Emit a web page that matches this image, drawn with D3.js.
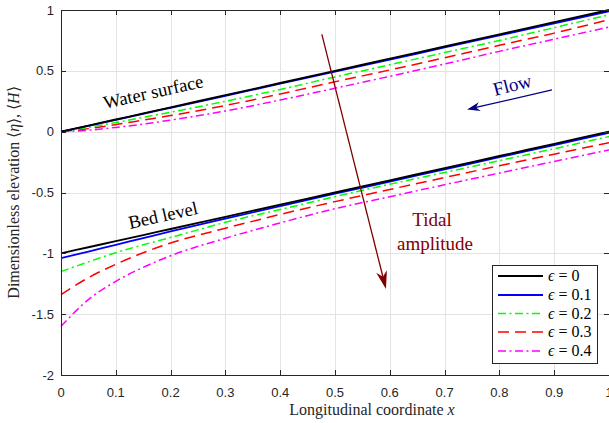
<!DOCTYPE html>
<html>
<head>
<meta charset="utf-8">
<script src="https://cdn.jsdelivr.net/npm/d3@7"></script>
<style>
  body { margin: 0; background: #fff; }
  svg { display: block; }
</style>
</head>
<body>
<div id="chart"></div>
<script>
var xVals = [0, 0.05, 0.1, 0.15, 0.2, 0.3, 0.4, 0.5, 0.6, 0.7, 0.8, 0.9, 1];

// water surface <eta> for each epsilon
var surfEps0  = [0, 0.05, 0.1, 0.15, 0.2, 0.3, 0.4, 0.5, 0.6, 0.7, 0.8, 0.9, 1];
var surfEps01 = [0, 0.048, 0.097, 0.147, 0.196, 0.295, 0.394, 0.493, 0.592, 0.692, 0.791, 0.89, 0.99];
var surfEps02 = [0, 0.035, 0.075, 0.118, 0.16, 0.25, 0.347, 0.45, 0.55, 0.65, 0.75, 0.855, 0.96];
var surfEps03 = [0, 0.025, 0.058, 0.095, 0.132, 0.215, 0.31, 0.41, 0.507, 0.607, 0.71, 0.81, 0.92];
var surfEps04 = [0, 0.012, 0.035, 0.062, 0.095, 0.17, 0.26, 0.357, 0.455, 0.556, 0.66, 0.76, 0.86];

// bed level <H> for each epsilon
var bedEps0  = [-1, -0.95, -0.9, -0.85, -0.8, -0.7, -0.6, -0.5, -0.4, -0.3, -0.2, -0.1, 0];
var bedEps01 = [-1.04, -0.985, -0.93, -0.875, -0.82, -0.715, -0.612, -0.51, -0.41, -0.31, -0.21, -0.11, -0.01];
var bedEps02 = [-1.15, -1.07, -0.995, -0.93, -0.87, -0.745, -0.64, -0.534, -0.432, -0.335, -0.238, -0.14, -0.04];
var bedEps03 = [-1.34, -1.2, -1.09, -0.995, -0.915, -0.794, -0.68, -0.575, -0.475, -0.377, -0.28, -0.185, -0.09];
var bedEps04 = [-1.6, -1.38, -1.23, -1.115, -1.02, -0.876, -0.75, -0.633, -0.535, -0.436, -0.34, -0.245, -0.15];

var epsLabels = ["0", "0.1", "0.2", "0.3", "0.4"];
var xTicks = [0, 0.1, 0.2, 0.3, 0.4, 0.5, 0.6, 0.7, 0.8, 0.9, 1];
var yTicks = [-2, -1.5, -1, -0.5, 0, 0.5, 1];

var W = 609, H = 423;
var mLeft = 61, mRight = 609, mTop = 10, mBottom = 375;

var x = d3.scaleLinear().domain([0, 1]).range([mLeft, mRight]);
var y = d3.scaleLinear().domain([-2, 1]).range([mBottom, mTop]);

var svg = d3.select("#chart").append("svg")
    .attr("width", W)
    .attr("height", H)
    .style("font-family", "'Liberation Sans', Arial, sans-serif");

// styles per epsilon (matlab-ish)
var styles = [
  { color: "#000000", dash: null, w: 1.8 },
  { color: "#0000ff", dash: null, w: 1.8 },
  { color: "#00ff00", dash: "8,3.5,2,3.5", w: 1.5 },
  { color: "#ff0000", dash: "11,6", w: 1.5 },
  { color: "#ff00ff", dash: "8,3.5,2,3.5", w: 1.5 }
];

var surfaces = [surfEps0, surfEps01, surfEps02, surfEps03, surfEps04];
var beds = [bedEps0, bedEps01, bedEps02, bedEps03, bedEps04];

// grid
var grid = svg.append("g").attr("stroke", "#e3e3e3").attr("stroke-width", 1);
grid.selectAll("line.gx").data(xTicks.slice(1, -1)).enter().append("line")
    .attr("x1", function(d) { return Math.round(x(d)) + 0.5; })
    .attr("x2", function(d) { return Math.round(x(d)) + 0.5; })
    .attr("y1", mTop).attr("y2", mBottom);
grid.selectAll("line.gy").data(yTicks.slice(1, -1)).enter().append("line")
    .attr("y1", function(d) { return Math.round(y(d)) + 0.5; })
    .attr("y2", function(d) { return Math.round(y(d)) + 0.5; })
    .attr("x1", mLeft).attr("x2", mRight);

var line = d3.line()
    .x(function(d, i) { return x(xVals[i]); })
    .y(function(d) { return y(d); })
    .curve(d3.curveMonotoneX);

// draw from eps=0.4 up so black sits on top
for (var k = 4; k >= 0; k--) {
  [surfaces[k], beds[k]].forEach(function(series) {
    svg.append("path")
        .attr("d", line(series))
        .attr("fill", "none")
        .attr("stroke", styles[k].color)
        .attr("stroke-width", styles[k].w)
        .attr("stroke-dasharray", styles[k].dash);
  });
}

// slope of the eps=0 lines on screen, for the rotated labels
var ang = Math.atan2(y(1) - y(0), x(1) - x(0)) * 180 / Math.PI;

var serif = "'Liberation Serif', 'Times New Roman', serif";

svg.append("text")
    .attr("transform", "translate(" + 105 + "," + 109 + ") rotate(" + ang + ")")
    .attr("font-family", serif).attr("font-size", 18.5)
    .text("Water surface");

svg.append("text")
    .attr("transform", "translate(" + 130 + "," + 229 + ") rotate(" + ang + ")")
    .attr("font-family", serif).attr("font-size", 18.5)
    .text("Bed level");

svg.append("text")
    .attr("transform", "translate(" + 495 + "," + 96 + ") rotate(" + (ang - 2) + ")")
    .attr("font-family", serif).attr("font-size", 19)
    .attr("fill", "#000080")
    .text("Flow");

svg.append("text")
    .attr("x", 432).attr("y", 226)
    .attr("text-anchor", "middle")
    .attr("font-family", serif).attr("font-size", 19)
    .attr("fill", "#800000")
    .text("Tidal");
svg.append("text")
    .attr("x", 435).attr("y", 250)
    .attr("text-anchor", "middle")
    .attr("font-family", serif).attr("font-size", 19)
    .attr("fill", "#800000")
    .text("amplitude");

// annotation arrows, in data coordinates
function arrow(x0, y0, x1, y1, color, headLen, headW) {
  var ax = x(x0), ay = y(y0), bx = x(x1), by = y(y1);
  var dx = bx - ax, dy = by - ay, L = Math.sqrt(dx * dx + dy * dy);
  var ux = dx / L, uy = dy / L, px = -uy, py = ux;
  var baseX = bx - ux * headLen, baseY = by - uy * headLen;
  var notchX = bx - ux * headLen * 0.7, notchY = by - uy * headLen * 0.7;
  svg.append("line")
      .attr("x1", ax).attr("y1", ay).attr("x2", notchX).attr("y2", notchY)
      .attr("stroke", color).attr("stroke-width", 1.3);
  svg.append("path")
      .attr("d", "M" + bx + "," + by +
                 "L" + (baseX + px * headW / 2) + "," + (baseY + py * headW / 2) +
                 "L" + notchX + "," + notchY +
                 "L" + (baseX - px * headW / 2) + "," + (baseY - py * headW / 2) + "Z")
      .attr("fill", color);
}
arrow(0.476, 0.80, 0.593, -1.293, "#800000", 18, 11);
arrow(0.896, 0.343, 0.741, 0.182, "#000080", 13, 9);

// axes box, ticks inward on all four sides
var axis = svg.append("g").attr("stroke", "#262626").attr("stroke-width", 1).attr("fill", "none");
axis.append("rect")
    .attr("x", mLeft + 0.5).attr("y", mTop + 0.5)
    .attr("width", mRight - mLeft).attr("height", mBottom - mTop);
xTicks.forEach(function(t) {
  var px = Math.round(x(t)) + 0.5;
  axis.append("line").attr("x1", px).attr("x2", px).attr("y1", mBottom).attr("y2", mBottom - 5);
  axis.append("line").attr("x1", px).attr("x2", px).attr("y1", mTop).attr("y2", mTop + 5);
});
yTicks.forEach(function(t) {
  var py = Math.round(y(t)) + 0.5;
  axis.append("line").attr("y1", py).attr("y2", py).attr("x1", mLeft).attr("x2", mLeft + 5);
  axis.append("line").attr("y1", py).attr("y2", py).attr("x1", mRight).attr("x2", mRight - 5);
});

svg.selectAll("text.xt").data(xTicks).enter().append("text")
    .attr("x", function(d) { return x(d); })
    .attr("y", 397)
    .attr("text-anchor", "middle")
    .attr("font-size", 13).attr("fill", "#262626")
    .text(function(d) { return String(d); });

svg.selectAll("text.yt").data(yTicks).enter().append("text")
    .attr("x", 54)
    .attr("y", function(d) { return y(d) + 4.5; })
    .attr("text-anchor", "end")
    .attr("font-size", 13).attr("fill", "#262626")
    .text(function(d) { return String(d); });

// axis labels
var xl = svg.append("text")
    .attr("x", 372).attr("y", 415)
    .attr("text-anchor", "middle")
    .attr("font-family", serif).attr("font-size", 16).attr("fill", "#262626");
xl.append("tspan").text("Longitudinal coordinate ");
xl.append("tspan").attr("font-style", "italic").text("x");

var yl = svg.append("text")
    .attr("transform", "translate(19," + ((mTop + mBottom) / 2) + ") rotate(-90)")
    .attr("text-anchor", "middle")
    .attr("font-family", serif).attr("font-size", 16).attr("fill", "#262626");
yl.append("tspan").text("Dimensionless elevation \u27E8");
yl.append("tspan").attr("font-style", "italic").text("\u03B7");
yl.append("tspan").text("\u27E9, \u27E8");
yl.append("tspan").attr("font-style", "italic").text("H");
yl.append("tspan").text("\u27E9");

// legend
var lg = svg.append("g");
lg.append("rect")
    .attr("x", 492.5).attr("y", 265.5).attr("width", 105).attr("height", 98)
    .attr("fill", "#fff").attr("stroke", "#262626").attr("stroke-width", 1);
var rowY = [276, 295, 313.5, 332, 351];
epsLabels.forEach(function(lab, i) {
  lg.append("line")
      .attr("x1", 498).attr("x2", 543)
      .attr("y1", rowY[i]).attr("y2", rowY[i])
      .attr("stroke", styles[i].color)
      .attr("stroke-width", styles[i].w)
      .attr("stroke-dasharray", styles[i].dash);
  var t = lg.append("text")
      .attr("x", 548).attr("y", rowY[i] + 5)
      .attr("font-family", serif).attr("font-size", 16).attr("fill", "#000");
  t.append("tspan").attr("font-style", "italic").text("\u03F5");
  t.append("tspan").text(" = " + lab);
});
</script>
</body>
</html>
